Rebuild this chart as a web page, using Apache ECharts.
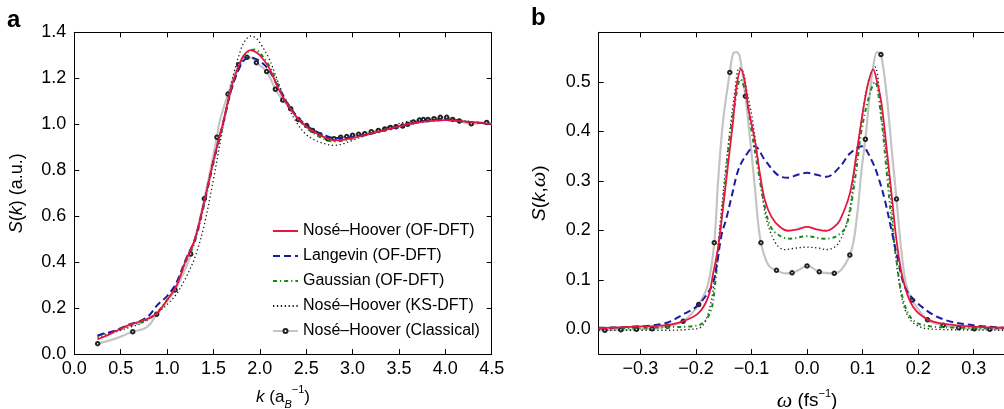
<!DOCTYPE html>
<html><head><meta charset="utf-8">
<script src="https://cdn.jsdelivr.net/npm/echarts@6/dist/echarts.min.js"></script>
<style>html,body{margin:0;padding:0;background:#fff}#c{width:1004px;height:409px}</style>
</head><body><div id="c"></div>
<script>
// ---------- Panel a: S(k) ----------
const kGrid = [0.25,0.3,0.4,0.5,0.6,0.7,0.8,0.9,1.0,1.1,1.2,1.3,1.4,1.5,1.6,1.7,1.8,1.85,1.9,1.95,2.0,2.1,2.2,2.3,2.4,2.5,2.6,2.7,2.8,2.9,3.0,3.2,3.4,3.6,3.8,4.0,4.2,4.4,4.5];
const skNHOF  = [0.064,0.072,0.09,0.11,0.128,0.14,0.155,0.18,0.235,0.295,0.405,0.50,0.66,0.84,1.0,1.17,1.28,1.31,1.322,1.315,1.30,1.245,1.155,1.085,1.03,0.99,0.963,0.943,0.93,0.932,0.94,0.96,0.98,1.0,1.012,1.018,1.012,1.005,1.0];
const skLang  = [0.08,0.087,0.097,0.112,0.13,0.142,0.165,0.215,0.252,0.31,0.41,0.50,0.66,0.84,1.0,1.16,1.262,1.285,1.29,1.285,1.275,1.235,1.16,1.09,1.035,0.995,0.97,0.952,0.94,0.94,0.945,0.96,0.98,1.0,1.015,1.02,1.012,1.005,1.0];
const skGauss = [0.078,0.085,0.095,0.108,0.124,0.135,0.15,0.185,0.235,0.30,0.40,0.49,0.65,0.83,0.99,1.16,1.27,1.305,1.322,1.325,1.31,1.255,1.17,1.09,1.03,0.985,0.955,0.935,0.925,0.928,0.938,0.958,0.98,1.0,1.012,1.018,1.012,1.005,1.0];
const skKS    = [0.072,0.078,0.09,0.103,0.117,0.13,0.152,0.18,0.215,0.26,0.33,0.42,0.56,0.76,0.98,1.19,1.33,1.368,1.384,1.378,1.355,1.285,1.18,1.08,1.005,0.955,0.93,0.915,0.908,0.915,0.93,0.96,0.99,1.012,1.02,1.022,1.015,1.005,1.0];
// classical: sampled points (with markers) and extra curve points (no markers)
const kClassMark = [0.252,0.63,0.888,1.086,1.255,1.402,1.538,1.657,1.772,1.862,1.963,2.074,2.168,2.247,2.333,2.415,2.505,2.57,2.649,2.732,2.80,2.872,2.937,3.0,3.066,3.131,3.202,3.278,3.347,3.407,3.469,3.54,3.595,3.655,3.72,3.763,3.813,3.878,3.946,4.015,4.08,4.151,4.28,4.446];
const skClassMark = [0.045,0.097,0.173,0.279,0.435,0.676,0.943,1.131,1.259,1.291,1.268,1.229,1.152,1.105,1.067,1.02,0.994,0.973,0.954,0.937,0.937,0.943,0.946,0.952,0.956,0.959,0.967,0.973,0.979,0.986,0.989,0.992,1.0,1.01,1.018,1.021,1.021,1.024,1.03,1.03,1.021,1.014,1.002,1.008];
const kClassLine = [0.45,0.75,0.82,1.56,1.59,1.91,4.5];
const skClassLine = [0.068,0.11,0.132,1.0,1.045,1.29,1.0];
const kTicks = [0,0.5,1,1.5,2,2.5,3,3.5,4,4.5];
const skTicks = [0,0.2,0.4,0.6,0.8,1.0,1.2,1.4];

// ---------- Panel b: S(k,w) ----------
const wNHOF = [-0.375,-0.316,-0.256,-0.226,-0.196,-0.178,-0.169,-0.16,-0.151,-0.142,-0.133,-0.127,-0.119,-0.112,-0.106,-0.094,-0.085,-0.076,-0.064,-0.049,-0.034,-0.017,0,0.017,0.035,0.049,0.059,0.077,0.089,0.101,0.110,0.119,0.126,0.134,0.143,0.152,0.161,0.173,0.191,0.221,0.269,0.355];
const swNHOF = [0.002,0.005,0.008,0.015,0.032,0.065,0.113,0.166,0.247,0.335,0.422,0.49,0.525,0.50,0.449,0.382,0.315,0.261,0.227,0.207,0.199,0.202,0.207,0.202,0.199,0.207,0.22,0.274,0.355,0.443,0.497,0.525,0.50,0.456,0.368,0.274,0.18,0.099,0.045,0.018,0.008,0.003];
const wLang = [-0.375,-0.316,-0.256,-0.22,-0.198,-0.172,-0.163,-0.154,-0.145,-0.136,-0.124,-0.112,-0.094,-0.076,-0.052,-0.034,-0.017,0,0.017,0.035,0.059,0.077,0.098,0.116,0.128,0.14,0.152,0.164,0.179,0.215,0.251,0.299,0.355];
const swLang = [0.003,0.005,0.012,0.032,0.047,0.086,0.126,0.19,0.225,0.267,0.321,0.348,0.37,0.342,0.311,0.306,0.312,0.316,0.312,0.308,0.328,0.355,0.37,0.342,0.308,0.261,0.2,0.139,0.079,0.038,0.018,0.008,0.003];
const wGauss = [-0.375,-0.3,-0.25,-0.196,-0.175,-0.166,-0.157,-0.148,-0.139,-0.13,-0.12,-0.11,-0.1,-0.088,-0.076,-0.064,-0.046,-0.03,0,0.03,0.053,0.071,0.086,0.098,0.113,0.122,0.134,0.143,0.152,0.161,0.173,0.191,0.221,0.28,0.355];
const swGauss = [0.002,0.003,0.004,0.008,0.032,0.086,0.193,0.288,0.389,0.455,0.505,0.475,0.402,0.321,0.247,0.204,0.187,0.183,0.188,0.183,0.188,0.21,0.301,0.402,0.476,0.50,0.422,0.321,0.22,0.139,0.059,0.018,0.006,0.003,0.002];
const wKS = [-0.375,-0.25,-0.21,-0.19,-0.178,-0.169,-0.162,-0.155,-0.147,-0.138,-0.13,-0.122,-0.115,-0.108,-0.098,-0.086,-0.074,-0.056,-0.04,-0.02,0,0.02,0.035,0.056,0.074,0.086,0.098,0.11,0.122,0.135,0.149,0.158,0.167,0.179,0.197,0.23,0.355];
const swKS = [-0.002,-0.002,0.0,0.005,0.032,0.08,0.15,0.23,0.32,0.41,0.48,0.528,0.52,0.48,0.422,0.321,0.227,0.173,0.161,0.164,0.166,0.164,0.161,0.173,0.227,0.321,0.422,0.50,0.53,0.42,0.288,0.166,0.086,0.032,0.008,0.0,-0.002];
const wClassMark = [-0.364,-0.335,-0.307,-0.279,-0.251,-0.223,-0.195,-0.167,-0.139,-0.111,-0.083,-0.055,-0.027,0,0.022,0.049,0.077,0.105,0.133,0.161,0.189,0.217,0.245,0.273,0.301,0.329];
const swClassMark = [-0.002,-0.001,0.0,0.001,0.006,0.016,0.05,0.175,0.519,0.471,0.175,0.119,0.114,0.128,0.116,0.113,0.15,0.384,0.555,0.263,0.059,0.019,0.008,0.003,0.001,0.0];
const wClassLine = [-0.375,-0.178,-0.16,-0.151,-0.133,-0.127,-0.121,-0.103,-0.094,-0.088,-0.076,-0.067,-0.04,-0.016,0.089,0.098,0.113,0.119,0.126,0.143,0.152,0.169,0.178,0.355];
const swClassLine = [-0.002,0.092,0.301,0.422,0.557,0.56,0.55,0.389,0.288,0.214,0.146,0.126,0.113,0.119,0.22,0.321,0.476,0.53,0.56,0.476,0.368,0.166,0.092,0.0];
const wTicks = [-0.3,-0.2,-0.1,0,0.1,0.2,0.3];
const swTicks = [0,0.1,0.2,0.3,0.4,0.5];

const names = ['Nosé–Hoover (OF-DFT)','Langevin (OF-DFT)','Gaussian (OF-DFT)','Nosé–Hoover (KS-DFT)','Nosé–Hoover (Classical)'];

function zip(xs, ys){ return xs.map((x,i)=>[x, ys[i]]); }
function merged(mx, my, lx, ly){
  const a = mx.map((x,i)=>({value:[x,my[i]]}));
  const b = lx.map((x,i)=>({value:[x,ly[i]], symbol:'none'}));
  return a.concat(b).sort((p,q)=>p.value[0]-q.value[0]);
}
const FONT = 'Liberation Sans';
const fmt1 = v => { const r = Math.round(v*10)/10; return (r<0?'−':'') + Math.abs(r).toFixed(1); };

const styles = [
  {color:'#e5163f', width:1.8, type:'solid', z:6},
  {color:'#1c1ca0', width:2, type:[7,4], z:5},
  {color:'#158a15', width:2, type:[4,3,1.2,3], z:4},
  {color:'#1a1a1a', width:1.3, type:[1.3,2.6], z:3}
];
function lineSeries(idx, data, panel){
  const s = styles[idx];
  return {name:names[idx], type:'line', xAxisIndex:panel*2, yAxisIndex:panel===0?0:2,
    data, smooth:0.35, symbol:'none', showSymbol:false, z:s.z,
    lineStyle:{color:s.color, width:s.width, type:s.type}, itemStyle:{color:s.color}};
}
function classSeries(data, panel){
  return {name:names[4], type:'line', xAxisIndex:panel*2, yAxisIndex:panel===0?0:2,
    data, smooth:0.35, symbol:'emptyCircle', symbolSize:3.5, showAllSymbol:true, z:2,
    lineStyle:{color:'#c4c4c4', width:2.2}, itemStyle:{color:'#222', borderWidth:1}};
}

function tick(custom){
  const t = {show:true, inside:true, length:5, lineStyle:{color:'#000', width:1}};
  if (custom) t.customValues = custom;
  return t;
}
const axisLine = {show:true, onZero:false, lineStyle:{color:'#000', width:1}};
const labelStyle = {color:'#000', fontSize:18, fontFamily:FONT};
function richT(base, wsize){
  return {
    i:{fontStyle:'italic', fontSize:base, fontFamily:FONT, color:'#000', lineHeight:26},
    w:{fontStyle:'italic', fontSize:wsize, fontFamily:'Liberation Serif', color:'#000', lineHeight:26},
    sub:{fontStyle:'italic', fontSize:11, fontFamily:FONT, color:'#000', verticalAlign:'bottom', lineHeight:26},
    sup:{fontSize:11, fontFamily:FONT, color:'#000', verticalAlign:'top', lineHeight:26}
  };
}
function nameStyle(base, wsize){
  return {color:'#000', fontSize:base, fontFamily:FONT, lineHeight:26, rich:richT(base, wsize)};
}

const chart = echarts.init(document.getElementById('c'), null, {renderer:'canvas'});
chart.setOption({
  animation:false,
  backgroundColor:'#fff',
  grid:[
    {left:74.3, top:32.3, width:417.4, height:321.7, containLabel:false, outerBoundsMode:'none'},
    {left:598.7, top:32.3, width:416.7, height:321.7, containLabel:false, outerBoundsMode:'none'}
  ],
  xAxis:[
    {gridIndex:0, type:'value', min:0, max:4.5, interval:0.5, position:'bottom',
      axisLine, axisTick:tick(), splitLine:{show:false},
      axisLabel:Object.assign({margin:6, formatter:fmt1, customValues:kTicks}, labelStyle),
      name:'{i|k} (a{sub|B}{sup|−1})', nameLocation:'middle', nameGap:30, nameTextStyle:nameStyle(17, 19)},
    {gridIndex:0, type:'value', min:0, max:4.5, interval:0.5, position:'top',
      axisLine, axisTick:tick(), splitLine:{show:false}, axisLabel:{show:false}},
    {gridIndex:1, type:'value', min:-0.375, max:0.375, position:'bottom',
      axisLine, axisTick:tick(wTicks), splitLine:{show:false},
      axisLabel:Object.assign({margin:6, formatter:fmt1, customValues:wTicks}, labelStyle),
      name:'{w|ω} (fs{sup|−1})', nameLocation:'middle', nameGap:34, nameTextStyle:nameStyle(19, 22)},
    {gridIndex:1, type:'value', min:-0.375, max:0.375, position:'top',
      axisLine, axisTick:tick(wTicks), splitLine:{show:false}, axisLabel:{show:false}}
  ],
  yAxis:[
    {gridIndex:0, type:'value', min:0, max:1.4, interval:0.2, position:'left',
      axisLine, axisTick:tick(), splitLine:{show:false},
      axisLabel:Object.assign({margin:8, formatter:fmt1}, labelStyle),
      name:'{i|S}({i|k}) (a.u.)', nameLocation:'middle', nameRotate:90, nameGap:44, nameTextStyle:nameStyle(18, 20)},
    {gridIndex:0, type:'value', min:0, max:1.4, interval:0.2, position:'right',
      axisLine, axisTick:tick(), splitLine:{show:false}, axisLabel:{show:false}},
    {gridIndex:1, type:'value', min:-0.05, max:0.6, position:'left',
      axisLine, axisTick:tick(swTicks), splitLine:{show:false},
      axisLabel:Object.assign({margin:8, formatter:fmt1, customValues:swTicks}, labelStyle),
      name:'{i|S}({i|k},{w|ω})', nameLocation:'middle', nameRotate:90, nameGap:46, nameTextStyle:nameStyle(19, 22)}
  ],
  legend:{
    orient:'vertical', left:272, top:223, padding:0, itemWidth:25, itemHeight:5, itemGap:9,
    textStyle:{color:'#000', fontSize:16, fontFamily:FONT},
    data:[
      {name:names[0], itemStyle:{opacity:0}},
      {name:names[1], itemStyle:{opacity:0}},
      {name:names[2], itemStyle:{opacity:0}},
      {name:names[3], itemStyle:{opacity:0}},
      {name:names[4]}
    ]
  },
  graphic:[
    {type:'text', left:7, top:8, style:{text:'a', fontSize:24, fontWeight:'bold', fontFamily:FONT, fill:'#000'}},
    {type:'text', left:531, top:6, style:{text:'b', fontSize:24, fontWeight:'bold', fontFamily:FONT, fill:'#000'}}
  ],
  series:[
    classSeries(merged(kClassMark, skClassMark, kClassLine, skClassLine), 0),
    lineSeries(3, zip(kGrid, skKS), 0),
    lineSeries(2, zip(kGrid, skGauss), 0),
    lineSeries(1, zip(kGrid, skLang), 0),
    lineSeries(0, zip(kGrid, skNHOF), 0),
    classSeries(merged(wClassMark, swClassMark, wClassLine, swClassLine), 1),
    lineSeries(3, zip(wKS, swKS), 1),
    lineSeries(2, zip(wGauss, swGauss), 1),
    lineSeries(1, zip(wLang, swLang), 1),
    lineSeries(0, zip(wNHOF, swNHOF), 1)
  ]
});
</script></body></html>
